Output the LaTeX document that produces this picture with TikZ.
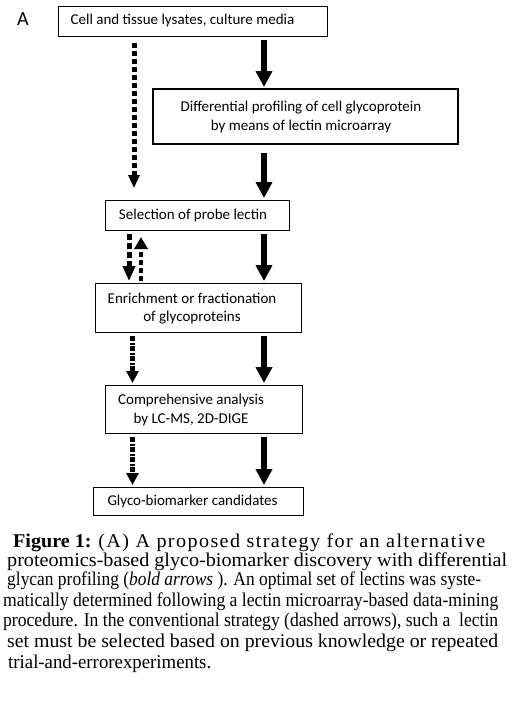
\documentclass[tikz,border=0pt]{standalone}
\usepackage{fontspec}
\usepackage{graphicx}
\setmainfont{Liberation Serif}
\newfontfamily\boxfont{Carlito}
\usetikzlibrary{arrows.meta}
\begin{document}
\begin{tikzpicture}[x=1pt,y=-1pt,
  box/.style={draw, line width=1pt, inner sep=0pt, anchor=north west},
  txt/.style={font=\boxfont\fontsize{15}{18.5}\selectfont, align=center, inner sep=0pt},
  capline/.style={font=\fontsize{19.5}{21}\selectfont, inner sep=0pt, anchor=base west},
  solidarr/.style={line width=6pt, -{Triangle[width=16pt,length=16pt]}},
  dasharr/.style={line width=5pt, dash pattern=on 5pt off 3pt, -{Triangle[width=11pt,length=13pt]}},
  dashdown/.style={line width=5pt, dash pattern=on 6pt off 3pt, -{Triangle[width=12pt,length=15pt]}},
  dashup/.style={line width=3.5pt, dash pattern=on 5pt off 3pt, -{Triangle[width=13pt,length=12pt]}},
  dotarr/.style={line width=4.5pt, dash pattern=on 5pt off 1.5pt on 2pt off 1.5pt, -{Triangle[width=12pt,length=12pt]}}
]
\useasboundingbox (0,0) rectangle (528,712);
\fill[white] (0,0) rectangle (528,712);

% label
\node[font=\boxfont\fontsize{20}{22}\selectfont, inner sep=0pt] (lab) at (23,19) {A};

% boxes
\node[box, minimum width=269pt, minimum height=30pt] (b1) at (58,6) {};
\node[box, line width=2pt, minimum width=305pt, minimum height=55pt] (b2) at (152,88) {};
\node[box, minimum width=184pt, minimum height=30pt] (b3) at (105,200) {};
\node[box, minimum width=206pt, minimum height=49pt] (b4) at (95,283) {};
\node[box, minimum width=197pt, minimum height=48pt] (b5) at (105,385) {};
\node[box, minimum width=210pt, minimum height=28pt] (b6) at (93,487) {};

% texts
\node[txt] (t1) at (182.5,21) {Cell and tissue lysates, culture media};
\node[txt, font=\boxfont\fontsize{15}{19}\selectfont] (t2) at (301,117) {Differential profiling of cell glycoprotein\\by means of lectin microarray};
\node[txt] (t3) at (193,215) {Selection of probe lectin};
\node[txt] (t4) at (192,308.5) {Enrichment or fractionation\\of glycoproteins};
\node[txt] (t5) at (191,410) {Comprehensive analysis\\by LC-MS, 2D-DIGE};
\node[txt] (t6) at (192.5,501) {Glyco-biomarker candidates};

% x positions of connectors
\coordinate (xs) at (264,0);
\coordinate (xd) at (134,0);
\coordinate (xl) at (129,0);
\coordinate (xr) at (141,0);
\coordinate (xo) at (132.5,0);

% bold arrows
\draw[solidarr] ([yshift=-3pt]b1.south -| xs) -- ([yshift=1pt]b2.north -| xs);
\draw[solidarr] ([yshift=-8pt]b2.south -| xs) -- ([yshift=2pt]b3.north -| xs);
\draw[solidarr] ([yshift=-3pt]b3.south -| xs) -- ([yshift=2pt]b4.north -| xs);
\draw[solidarr] ([yshift=-3pt]b4.south -| xs) -- ([yshift=2pt]b5.north -| xs);
\draw[solidarr] ([yshift=-3pt]b5.south -| xs) -- ([yshift=2pt]b6.north -| xs);

% conventional (dashed) arrows
\draw[dasharr] ([yshift=-6pt]b1.south -| xd) -- ([yshift=12pt]b3.north -| xd);
\draw[dashdown] ([yshift=-3pt]b3.south -| xl) -- ([yshift=2pt]b4.north -| xl);
\draw[dashup] ([yshift=2pt]b4.north -| xr) -- ([yshift=-6pt]b3.south -| xr);
\draw[dotarr] ([yshift=-3pt]b4.south -| xo) -- ([yshift=2pt]b5.north -| xo);
\draw[dotarr] ([yshift=-3pt]b5.south -| xo) -- ([yshift=2pt]b6.north -| xo);

% caption
\node[capline] (c1) at (13,547) {\resizebox{472pt}{\height}{\textbf{Figure 1:} {\addfontfeature{LetterSpace=7}(A) A proposed strategy for an alternative}}};
\node[capline] (c2) at (7,566) {\resizebox{500pt}{\height}{proteomics-based glyco-biomarker discovery with differential}};
\node[capline] (c3) at (7,585) {\resizebox{474pt}{\height}{glycan profiling (\textit{bold arrows} ). An optimal set of lectins was syste-}};
\node[capline] (c4) at (3,606) {\resizebox{495pt}{\height}{matically determined following a lectin microarray-based data-mining}};
\node[capline] (c5) at (3,626) {\resizebox{495pt}{\height}{procedure. In the conventional strategy (dashed arrows), such a~ lectin}};
\node[capline] (c6) at (7,647) {\resizebox{491pt}{\height}{set must be selected based on previous knowledge or repeated}};
\node[capline] (c7) at (8,668) {\resizebox{203pt}{\height}{trial-and-errorexperiments.}};
\end{tikzpicture}
\end{document}
